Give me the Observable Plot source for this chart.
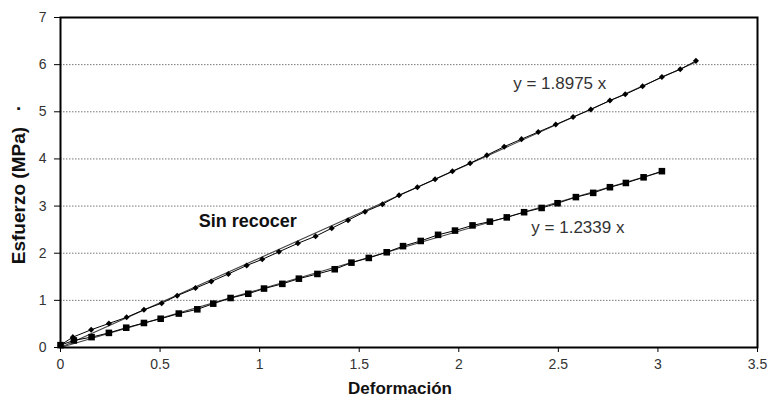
<!DOCTYPE html>
<html>
<head>
<meta charset="utf-8">
<script src="https://cdn.jsdelivr.net/npm/d3@7"></script>
<script src="https://cdn.jsdelivr.net/npm/@observablehq/plot@0.6"></script>
<style>
  html, body { margin: 0; padding: 0; background: #fff; }
  #chart svg { display: block; }
</style>
</head>
<body>
<div id="chart"></div>
<script>
// Series "Sin recocer" (diamonds)
const diamondX = [0, 0.062, 0.154, 0.243, 0.332, 0.419, 0.508, 0.586, 0.678, 0.757, 0.843, 0.935, 1.013, 1.097, 1.192, 1.281, 1.362, 1.444, 1.529, 1.617, 1.700, 1.792, 1.881, 1.968, 2.057, 2.141, 2.228, 2.315, 2.399, 2.487, 2.574, 2.663, 2.759, 2.836, 2.923, 3.020, 3.112, 3.191];
const diamondY = [0.05, 0.22, 0.376, 0.51, 0.64, 0.80, 0.94, 1.10, 1.26, 1.40, 1.56, 1.74, 1.87, 2.03, 2.21, 2.36, 2.53, 2.70, 2.88, 3.04, 3.23, 3.40, 3.57, 3.74, 3.91, 4.08, 4.26, 4.42, 4.57, 4.73, 4.89, 5.05, 5.24, 5.37, 5.54, 5.74, 5.90, 6.08];
// Second series (squares)
const squareX = [0, 0.067, 0.156, 0.243, 0.330, 0.419, 0.503, 0.594, 0.687, 0.767, 0.854, 0.943, 1.022, 1.114, 1.197, 1.290, 1.377, 1.461, 1.548, 1.638, 1.720, 1.809, 1.896, 1.981, 2.069, 2.156, 2.241, 2.328, 2.416, 2.496, 2.588, 2.675, 2.759, 2.839, 2.928, 3.020];
const squareY = [0.05, 0.15, 0.22, 0.31, 0.42, 0.52, 0.61, 0.72, 0.81, 0.93, 1.05, 1.14, 1.25, 1.35, 1.46, 1.56, 1.66, 1.80, 1.90, 2.02, 2.15, 2.26, 2.39, 2.48, 2.59, 2.67, 2.76, 2.87, 2.96, 3.06, 3.19, 3.28, 3.40, 3.49, 3.61, 3.74];
// Linear trendlines through origin (y = slope * x)
const trendSlopes = [1.8975, 1.2339];
const trendEndX = [3.191, 3.020];
// Tick values
const xTicks = [0, 0.5, 1, 1.5, 2, 2.5, 3, 3.5];
const yTicks = [0, 1, 2, 3, 4, 5, 6, 7];
const gridY = [1, 2, 3, 4, 5, 6];
// Annotations
const noteText = ["y = 1.8975 x", "y = 1.2339 x"];
const noteX = [2.507, 2.598];
const noteY = [5.605, 2.548];
const seriesLabel = ["Sin recocer"];
const seriesLabelX = [0.94];
const seriesLabelY = [2.675];
const xLabel = "Deformación";
const yLabel = "Esfuerzo (MPa)   ·";

const diamonds = diamondX.map((x, i) => ({x, y: diamondY[i]}));
const squares = squareX.map((x, i) => ({x, y: squareY[i]}));
const trends = trendSlopes.flatMap((s, k) => [0, trendEndX[k]].map(x => ({k, x, y: s * x})));
const notes = noteText.map((t, i) => ({t, x: noteX[i], y: noteY[i]}));
const series = seriesLabel.map((t, i) => ({t, x: seriesLabelX[i], y: seriesLabelY[i]}));

const font = "'Liberation Sans', Arial, sans-serif";

const chart = Plot.plot({
  width: 768,
  height: 398,
  marginLeft: 60,
  marginRight: 11,
  marginTop: 17,
  marginBottom: 51,
  style: {fontFamily: font, background: "#fff"},
  x: {domain: [0, 3.5]},
  y: {domain: [0, 7]},
  marks: [
    Plot.ruleY(gridY, {stroke: "#777", strokeWidth: 1, strokeDasharray: "1.5,1.5"}),
    Plot.axisX({ticks: xTicks, tickFormat: d => String(d), tickSize: 5, tickPadding: 7, fontSize: 14, fill: "#333", stroke: "#000", label: null}),
    Plot.axisY({ticks: yTicks, tickFormat: d => String(d), tickSize: 6, tickPadding: 8, fontSize: 14, fill: "#333", stroke: "#000", label: null}),
    Plot.line(trends, {x: "x", y: "y", z: "k", stroke: "#444", strokeWidth: 1.1}),
    Plot.line(diamonds, {x: "x", y: "y", stroke: "#000", strokeWidth: 1}),
    Plot.line(squares, {x: "x", y: "y", stroke: "#000", strokeWidth: 1}),
    Plot.dot(diamonds, {x: "x", y: "y", symbol: "square", rotate: 45, r: 2.4, fill: "#000", stroke: "none"}),
    Plot.dot(squares, {x: "x", y: "y", symbol: "square", r: 3.7, fill: "#000", stroke: "none"}),
    Plot.frame({stroke: "#000", strokeWidth: 2}),
    Plot.text(notes, {x: "x", y: "y", text: "t", fontSize: 17, fill: "#333", textAnchor: "middle"}),
    Plot.text(series, {x: "x", y: "y", text: "t", fontSize: 18, fontWeight: "bold", fill: "#111", textAnchor: "middle"}),
    Plot.text([xLabel], {frameAnchor: "bottom", text: d => d, textAnchor: "middle", lineAnchor: "middle", dx: -9, dy: 41, fontSize: 17, fontWeight: "bold", fill: "#111"}),
    Plot.text([yLabel], {frameAnchor: "left", text: d => d, textAnchor: "middle", lineAnchor: "middle", rotate: -90, dx: -42, dy: 2, fontSize: 19, fontWeight: "bold", fill: "#111"})
  ]
});
document.getElementById("chart").appendChild(chart);
</script>
</body>
</html>
